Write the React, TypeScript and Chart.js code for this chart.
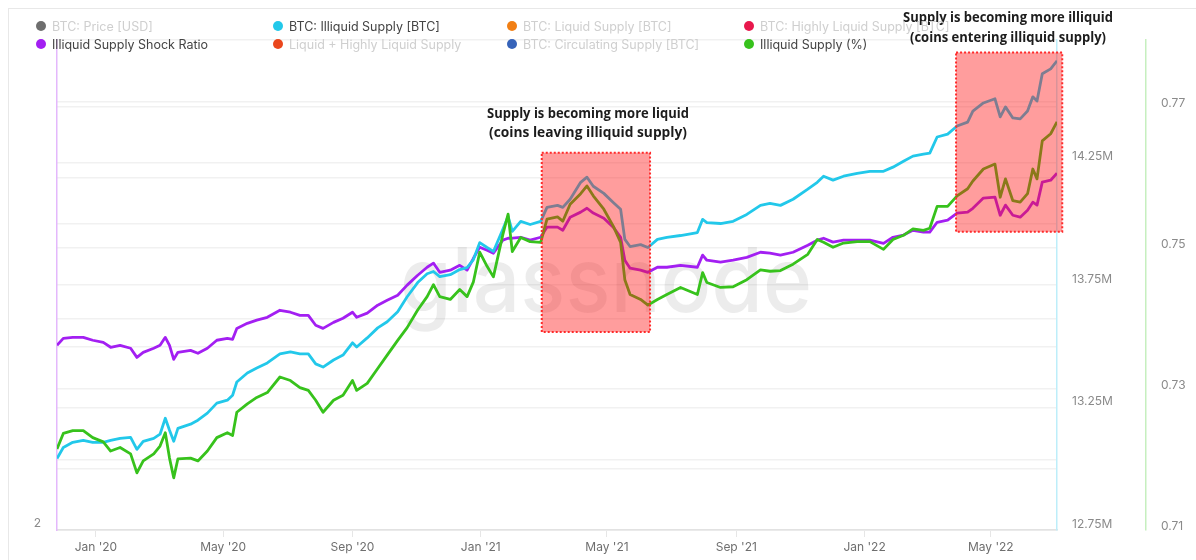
import React, { useEffect, useRef } from "react";
import { Chart, registerables } from "chart.js";

Chart.register(...registerables);

// ---------------- DATA ----------------
const dates = [
  "2019-11-25", "2019-12-01", "2019-12-10", "2019-12-20", "2019-12-29", "2020-01-08", "2020-01-15", "2020-01-24", "2020-02-03", "2020-02-09",
  "2020-02-15", "2020-02-25", "2020-03-02", "2020-03-07", "2020-03-11", "2020-03-15", "2020-03-19", "2020-03-31", "2020-04-07", "2020-04-16",
  "2020-04-25", "2020-05-05", "2020-05-10", "2020-05-14", "2020-05-24", "2020-06-02", "2020-06-12", "2020-06-24", "2020-07-04", "2020-07-13",
  "2020-07-21", "2020-07-28", "2020-08-04", "2020-08-14", "2020-08-23", "2020-09-01", "2020-09-05", "2020-09-15", "2020-09-25", "2020-10-04",
  "2020-10-14", "2020-10-23", "2020-11-02", "2020-11-11", "2020-11-17", "2020-11-23", "2020-12-03", "2020-12-12", "2020-12-19", "2020-12-25",
  "2020-12-31", "2021-01-07", "2021-01-13", "2021-01-22", "2021-01-27", "2021-01-31", "2021-02-08", "2021-02-17", "2021-02-27", "2021-03-05",
  "2021-03-15", "2021-03-20", "2021-03-27", "2021-04-06", "2021-04-12", "2021-04-18", "2021-04-28", "2021-05-07", "2021-05-14", "2021-05-18",
  "2021-05-23", "2021-06-02", "2021-06-09", "2021-06-18", "2021-06-27", "2021-07-10", "2021-07-26", "2021-07-31", "2021-08-04", "2021-08-17",
  "2021-08-29", "2021-09-11", "2021-09-24", "2021-10-03", "2021-10-13", "2021-10-25", "2021-11-08", "2021-11-17", "2021-11-23", "2021-12-02",
  "2021-12-12", "2021-12-25", "2022-01-06", "2022-01-19", "2022-01-28", "2022-02-07", "2022-02-16", "2022-02-26", "2022-03-04", "2022-03-11",
  "2022-03-21", "2022-03-30", "2022-04-09", "2022-04-14", "2022-04-24", "2022-05-05", "2022-05-10", "2022-05-15", "2022-05-22", "2022-05-29",
  "2022-06-05", "2022-06-10", "2022-06-14", "2022-06-19", "2022-06-27", "2022-07-03",
];

// BTC: Illiquid Supply [BTC], in millions
const illiquidSupplyM = [
  13.042, 13.087, 13.108, 13.116, 13.108, 13.108, 13.116, 13.124, 13.128, 13.079,
  13.112, 13.124, 13.141, 13.206, 13.157, 13.112, 13.165, 13.182, 13.198, 13.227,
  13.268, 13.280, 13.300, 13.354, 13.391, 13.411, 13.432, 13.469, 13.477, 13.469,
  13.469, 13.428, 13.415, 13.444, 13.464, 13.514, 13.497, 13.534, 13.575, 13.600,
  13.641, 13.702, 13.760, 13.796, 13.805, 13.784, 13.792, 13.813, 13.821, 13.854,
  13.923, 13.903, 13.887, 13.977, 14.030, 13.969, 14.010, 13.997, 14.010, 14.067,
  14.075, 14.067, 14.100, 14.169, 14.190, 14.153, 14.124, 14.087, 14.059, 13.936,
  13.907, 13.915, 13.903, 13.936, 13.944, 13.952, 13.964, 14.018, 14.005, 14.001,
  14.010, 14.038, 14.075, 14.083, 14.075, 14.100, 14.141, 14.169, 14.194, 14.178,
  14.194, 14.206, 14.214, 14.214, 14.231, 14.255, 14.276, 14.284, 14.288, 14.354,
  14.366, 14.399, 14.415, 14.460, 14.493, 14.510, 14.436, 14.477, 14.432, 14.428,
  14.460, 14.518, 14.501, 14.612, 14.632, 14.665,
];

// Illiquid Supply Shock Ratio
const shockRatio = [
  2.737, 2.766, 2.770, 2.770, 2.758, 2.749, 2.729, 2.737, 2.725, 2.687,
  2.708, 2.725, 2.737, 2.770, 2.737, 2.679, 2.708, 2.716, 2.704, 2.725,
  2.758, 2.766, 2.762, 2.807, 2.828, 2.841, 2.853, 2.882, 2.874, 2.861,
  2.861, 2.820, 2.807, 2.832, 2.849, 2.874, 2.853, 2.870, 2.903, 2.923,
  2.944, 2.986, 3.027, 3.060, 3.077, 3.039, 3.048, 3.068, 3.048, 3.097,
  3.143, 3.130, 3.118, 3.172, 3.180, 3.180, 3.184, 3.172, 3.184, 3.226,
  3.226, 3.213, 3.267, 3.288, 3.304, 3.284, 3.263, 3.226, 3.184, 3.089,
  3.056, 3.048, 3.039, 3.060, 3.060, 3.068, 3.060, 3.110, 3.089, 3.081,
  3.089, 3.101, 3.122, 3.118, 3.110, 3.122, 3.151, 3.172, 3.180, 3.164,
  3.172, 3.172, 3.172, 3.159, 3.184, 3.193, 3.213, 3.205, 3.205, 3.246,
  3.255, 3.284, 3.288, 3.304, 3.346, 3.350, 3.275, 3.317, 3.275, 3.267,
  3.296, 3.329, 3.317, 3.412, 3.420, 3.449,
];

// Illiquid Supply (%) as a fraction
const illiquidSupplyPct = [
  0.7215, 0.7237, 0.7241, 0.7241, 0.7231, 0.7225, 0.7212, 0.7217, 0.7208, 0.7181,
  0.7198, 0.7208, 0.7219, 0.7238, 0.7202, 0.7174, 0.7201, 0.7202, 0.7198, 0.7212,
  0.7231, 0.7238, 0.7234, 0.7267, 0.7279, 0.7288, 0.7295, 0.7317, 0.7312, 0.7302,
  0.7298, 0.7284, 0.7267, 0.7284, 0.7291, 0.7312, 0.7298, 0.7308, 0.7329, 0.7348,
  0.7369, 0.7387, 0.7412, 0.7431, 0.7448, 0.7431, 0.7427, 0.7441, 0.7431, 0.7452,
  0.7494, 0.7474, 0.7459, 0.7519, 0.7548, 0.7495, 0.7515, 0.7509, 0.7508, 0.7541,
  0.7544, 0.7538, 0.7562, 0.7577, 0.7588, 0.7574, 0.7555, 0.7531, 0.7508, 0.7455,
  0.7434, 0.7427, 0.7419, 0.7427, 0.7434, 0.7444, 0.7434, 0.7465, 0.7451, 0.7444,
  0.7445, 0.7455, 0.7469, 0.7467, 0.7468, 0.7477, 0.7491, 0.7512, 0.7508, 0.7501,
  0.7507, 0.7509, 0.7509, 0.7498, 0.7512, 0.7518, 0.7527, 0.7525, 0.7528, 0.7559,
  0.7559, 0.7574, 0.7584, 0.7595, 0.7612, 0.7619, 0.7572, 0.7598, 0.7567, 0.7565,
  0.7577, 0.7612, 0.7598, 0.7652, 0.7662, 0.7679,
];

const xRange = ["2019-11-25", "2022-07-03"];
const xTickDates = ["2020-01-01", "2020-05-01", "2020-09-01", "2021-01-01", "2021-05-01", "2021-09-01", "2022-01-01", "2022-05-01"];
const xTickLabels = ["Jan '20", "May '20", "Sep '20", "Jan '21", "May '21", "Sep '21", "Jan '22", "May '22"];

const supplyTicks = [12.75, 13.0, 13.25, 13.5, 13.75, 14.0, 14.25, 14.5, 14.75];
const supplyTickLabels = ["12.75M", "", "13.25M", "", "13.75M", "", "14.25M", "", ""];
const pctTicks = [0.71, 0.72, 0.73, 0.74, 0.75, 0.76, 0.77];
const pctTickLabels = ["0.71", "", "0.73", "", "0.75", "", "0.77"];
const ratioTicks = [2];
const ratioTickLabels = ["2"];

// Highlight boxes (date range, illiquid-supply value range) and their notes
const highlightFrom = ["2021-02-28", "2022-03-29"];
const highlightTo = ["2021-06-11", "2022-07-08"];
const highlightLow = [13.558, 13.967];
const highlightHigh = [14.29, 14.699];
const highlightNotes = [
  ["Supply is becoming more liquid", "(coins leaving illiquid supply)"],
  ["Supply is becoming more illiquid", "(coins entering illiquid supply)"],
];

const legendLabels = [
  "BTC: Price [USD]", "BTC: Illiquid Supply [BTC]", "BTC: Liquid Supply [BTC]", "BTC: Highly Liquid Supply [BTC]",
  "Illiquid Supply Shock Ratio", "Liquid + Highly Liquid Supply", "BTC: Circulating Supply [BTC]", "Illiquid Supply (%)",
];
const legendColors = ["#6e6e6e", "#22c8ea", "#f17f14", "#e8184c", "#a31ff2", "#ea461c", "#3663b9", "#37c21c"];
const legendActive = [false, true, false, false, true, false, false, true];

// ---------------- HELPERS ----------------
const dayNum = (s: string) => {
  const [y, m, d] = s.split("-").map(Number);
  return (Date.UTC(y, m - 1, d) - Date.UTC(2020, 0, 1)) / 86400000;
};

const CYAN = "#22c8ea";
const PURPLE = "#a31ff2";
const GREEN = "#37c21c";

const watermarkPlugin = {
  id: "watermark",
  beforeDatasetsDraw(chart: any) {
    const ctx = chart.ctx;
    ctx.save();
    ctx.font = '500 90px "Inter"';
    ctx.fillStyle = "rgba(0,0,0,0.075)";
    ctx.textAlign = "left";
    ctx.textBaseline = "alphabetic";
    ctx.fillText("glassnode", 400, 312, 412);
    ctx.restore();
  },
};

const noteLayout = [
  { cx: 588, ys: [114, 133], w: [202, 198] },
  { cx: 1008, ys: [18, 38], w: [210, 196] },
];

const highlightPlugin = {
  id: "highlights",
  afterDatasetsDraw(chart: any) {
    const ctx = chart.ctx;
    const xs = chart.scales.x;
    const ys = chart.scales.yC;
    ctx.save();
    highlightFrom.forEach((from, i) => {
      const x1 = xs.getPixelForValue(dayNum(from));
      const x2 = xs.getPixelForValue(dayNum(highlightTo[i]));
      const y1 = ys.getPixelForValue(highlightHigh[i]);
      const y2 = ys.getPixelForValue(highlightLow[i]);
      ctx.fillStyle = "rgba(255,22,22,0.42)";
      ctx.fillRect(x1, y1, x2 - x1, y2 - y1);
      ctx.setLineDash([2, 2]);
      ctx.lineWidth = 2;
      ctx.strokeStyle = "#ff2a2a";
      ctx.strokeRect(x1, y1, x2 - x1, y2 - y1);
    });
    ctx.restore();
  },
  afterDraw(chart: any) {
    const ctx = chart.ctx;
    ctx.save();
    ctx.fillStyle = "#1c1c1c";
    ctx.textAlign = "center";
    ctx.textBaseline = "middle";
    ctx.font = 'bold 15px "Open Sans"';
    highlightNotes.forEach((lines, i) => {
      const L = noteLayout[i];
      lines.forEach((t, j) => ctx.fillText(t, L.cx, L.ys[j], L.w[j]));
    });
    ctx.restore();
  },
};

export default function App() {
  const ref = useRef<HTMLCanvasElement>(null);

  useEffect(() => {
    const canvas = ref.current;
    if (!canvas) return;
    const xs = dates.map(dayNum);
    const tickFont = { family: "Inter", size: 12 };
    const chart = new Chart(canvas, {
      type: "line",
      data: {
        datasets: [
          {
            label: "Illiquid Supply (%)",
            data: xs.map((x, i) => ({ x, y: illiquidSupplyPct[i] })),
            borderColor: GREEN,
            yAxisID: "yG",
            order: 1,
          },
          {
            label: "BTC: Illiquid Supply [BTC]",
            data: xs.map((x, i) => ({ x, y: illiquidSupplyM[i] })),
            borderColor: CYAN,
            yAxisID: "yC",
            order: 2,
          },
          {
            label: "Illiquid Supply Shock Ratio",
            data: xs.map((x, i) => ({ x, y: shockRatio[i] })),
            borderColor: PURPLE,
            yAxisID: "yP",
            order: 3,
          },
        ].map((d) => ({ ...d, borderWidth: 2.8, pointRadius: 0, tension: 0, fill: false, borderJoinStyle: "round" })) as any,
      },
      options: {
        animation: false,
        responsive: false,
        devicePixelRatio: 1,
        layout: { padding: { top: 40, left: 0, right: 0, bottom: 0 } },
        plugins: { legend: { display: false }, tooltip: { enabled: false } },
        scales: {
          x: {
            type: "linear",
            position: "bottom",
            min: dayNum(xRange[0]),
            max: dayNum(xRange[1]),
            afterFit: (s: any) => { s.height = 30; },
            afterBuildTicks: (axis: any) => { axis.ticks = xTickDates.map((d) => ({ value: dayNum(d) })); },
            border: { display: true, color: "#e2e2e2", width: 1.5 },
            grid: { drawOnChartArea: false, drawTicks: true, tickLength: 7, tickColor: "#e6e6e6", lineWidth: 1 },
            ticks: {
              autoSkip: false,
              maxRotation: 0,
              padding: 3,
              color: "#6f6f6f",
              font: tickFont,
              callback: (_v: any, i: number) => xTickLabels[i],
            },
          },
          yP: {
            type: "linear",
            position: "left",
            min: 1.9731,
            max: 4.0,
            afterFit: (s: any) => { s.width = 57; },
            afterBuildTicks: (axis: any) => { axis.ticks = ratioTicks.map((v) => ({ value: v })); },
            border: { display: true, color: "#e4b8fc", width: 1.5 },
            grid: { drawOnChartArea: false, drawTicks: false },
            ticks: { padding: 16, color: "#8a8a8a", font: tickFont, callback: (_v: any, i: number) => ratioTickLabels[i] },
          },
          yC: {
            type: "linear",
            position: "right",
            weight: 0,
            min: 12.75,
            max: 14.75,
            afterFit: (s: any) => { s.width = 89; },
            afterBuildTicks: (axis: any) => { axis.ticks = supplyTicks.map((v) => ({ value: v })); },
            border: { display: true, color: "#bdeefa", width: 1.5 },
            grid: { drawOnChartArea: true, drawTicks: false, color: "#f1f1f1", lineWidth: 1.5 },
            ticks: { padding: 15, labelOffset: -6, color: "#8a8a8a", font: tickFont, callback: (_v: any, i: number) => supplyTickLabels[i] },
          },
          yG: {
            type: "linear",
            position: "right",
            weight: 1,
            min: 0.71,
            max: 0.7795,
            afterFit: (s: any) => { s.width = 50; },
            afterBuildTicks: (axis: any) => { axis.ticks = pctTicks.map((v) => ({ value: v })); },
            border: { display: true, color: "#c6efbf", width: 1.5 },
            grid: { drawOnChartArea: true, drawTicks: false, color: "#f1f1f1", lineWidth: 1.5 },
            ticks: { padding: 15, labelOffset: -4, color: "#8a8a8a", font: tickFont, callback: (_v: any, i: number) => pctTickLabels[i] },
          },
        },
      } as any,
      plugins: [watermarkPlugin, highlightPlugin],
    });
    return () => chart.destroy();
  }, []);

  const colX = [41, 278, 512, 749];
  const rowY = [26, 44];

  return (
    <div style={{ position: "absolute", left: 0, top: 0, width: 1196, height: 560, background: "#fff", overflow: "hidden" }}>
      <div
        style={{
          position: "absolute", left: 8, top: 8, right: -4, bottom: -4,
          borderLeft: "1px solid #e8e8e8", borderTop: "1px solid #e8e8e8",
        }}
      />
      <canvas ref={ref} width={1196} height={560} style={{ position: "absolute", left: 0, top: 0, width: 1196, height: 560 }} />
      {legendLabels.map((label, i) => {
        const col = i % 4;
        const row = Math.floor(i / 4);
        return (
          <div
            key={label}
            style={{
              position: "absolute", left: colX[col] - 5, top: rowY[row] - 9, height: 18,
              display: "flex", alignItems: "center", whiteSpace: "nowrap",
              fontFamily: "Inter, 'Noto Sans', sans-serif", fontSize: 12.5,
              color: legendActive[i] ? "#444" : "#cfcfcf",
            }}
          >
            <span style={{ display: "inline-block", width: 10, height: 10, borderRadius: 5, background: legendColors[i], marginRight: 6 }} />
            <span>{label}</span>
          </div>
        );
      })}
    </div>
  );
}
